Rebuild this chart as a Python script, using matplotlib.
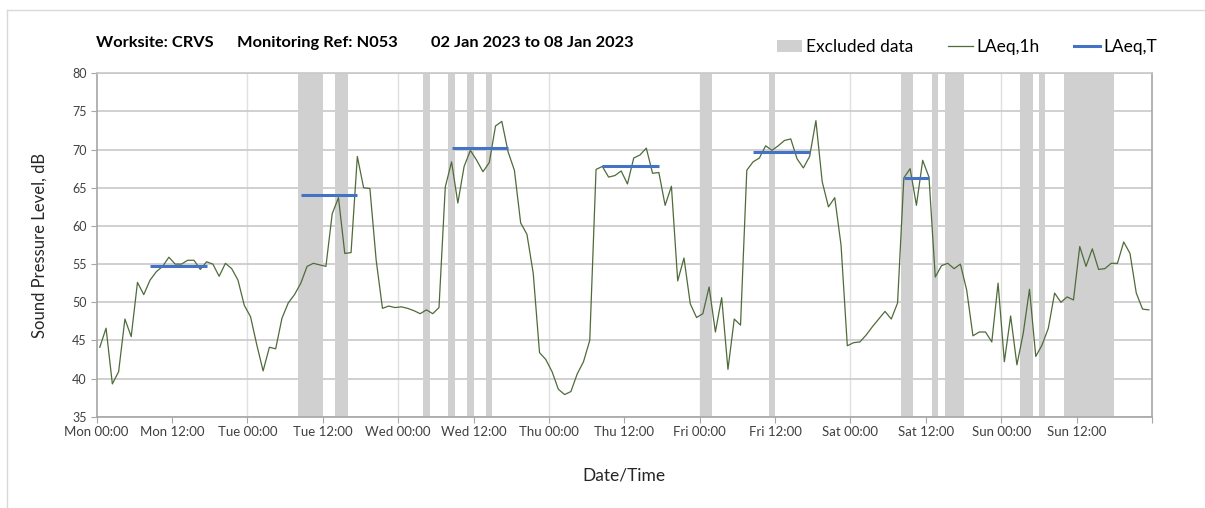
import numpy as np
import matplotlib
matplotlib.use("Agg")
from matplotlib import pyplot as plt
from matplotlib.patches import Patch
from matplotlib.lines import Line2D

plt.rcParams['font.family'] = ['Lato', 'DejaVu Sans']

# hourly LAeq,1h values, Mon 00:00 onwards (one per hour, plotted at mid-hour)
laeq_1h = [
    44.1, 46.6, 39.3, 40.9, 47.8, 45.5, 52.6, 51.0, 52.9, 54.0, 54.7, 55.9,
    55.0, 55.0, 55.5, 55.5, 54.3, 55.3, 55.0, 53.4, 55.1, 54.4, 52.9, 49.6,
    48.1, 44.4, 41.0, 44.1, 43.9, 47.9, 49.9, 51.0, 52.5, 54.7, 55.1, 54.9,
    54.7, 61.6, 63.7, 56.4, 56.5, 69.1, 65.0, 64.9, 55.5, 49.2, 49.5, 49.3,
    49.4, 49.2, 48.9, 48.5, 49.0, 48.5, 49.3, 65.1, 68.4, 63.0, 67.8, 69.9,
    68.6, 67.1, 68.3, 73.1, 73.7, 69.7, 67.3, 60.4, 58.9, 53.8, 43.4, 42.5,
    40.9, 38.6, 37.9, 38.3, 40.6, 42.2, 45.0, 67.4, 67.8, 66.4, 66.6, 67.2,
    65.5, 68.9, 69.3, 70.2, 66.9, 67.0, 62.7, 65.2, 52.8, 55.8, 49.8, 48.0,
    48.5, 52.0, 46.1, 50.6, 41.2, 47.8, 47.0, 67.3, 68.4, 68.9, 70.5, 69.9,
    70.5, 71.2, 71.4, 68.8, 67.6, 69.1, 73.8, 65.8, 62.5, 63.7, 57.5, 44.3,
    44.7, 44.8, 45.7, 46.8, 47.8, 48.8, 47.8, 49.9, 66.3, 67.5, 62.7, 68.6,
    66.4, 53.3, 54.8, 55.1, 54.4, 55.0, 51.6, 45.6, 46.1, 46.1, 44.8, 52.5,
    42.2, 48.2, 41.8, 45.9, 51.7, 42.9, 44.4, 46.6, 51.2, 50.0, 50.7, 50.3,
    57.3, 54.7, 57.0, 54.3, 54.4, 55.1, 55.1, 57.9, 56.4, 51.2, 49.1, 49.0,
]
hours = np.arange(len(laeq_1h)) + 0.5

# excluded periods (hours from Mon 00:00)
excl_start = [32, 38, 52, 56, 59, 62, 96, 107, 128, 133, 135, 147, 150, 154]
excl_end = [36, 40, 53, 57, 60, 63, 98, 108, 130, 134, 138, 149, 151, 162]

# LAeq,T daytime levels
laeqT_start = [8.5, 32.5, 56.5, 80.5, 104.5, 128.5]
laeqT_end = [17.5, 41.5, 65.5, 89.5, 113.5, 132.5]
laeqT_level = [54.8, 64.1, 70.2, 67.8, 69.7, 66.3]

days = ['Mon', 'Tue', 'Wed', 'Thu', 'Fri', 'Sat', 'Sun']
tick_labels = []
for d in days:
    tick_labels += [d + ' 00:00', d + ' 12:00']
tick_labels.append('')

green = '#4f6b3a'
blue = '#4472c4'
grey = '#d0d0d0'

fig = plt.figure(figsize=(12.05, 5.08), dpi=100)
ax = fig.add_axes([0.0802, 0.1797, 0.956 - 0.0802, 0.8557 - 0.1797])

for s, e in zip(excl_start, excl_end):
    ax.axvspan(s, e, color=grey, lw=0, zorder=1)

ax.plot(hours, laeq_1h, color=green, lw=0.9, zorder=3)
for s, e, v in zip(laeqT_start, laeqT_end, laeqT_level):
    ax.plot([s, e], [v, v], color=blue, lw=2.2, solid_capstyle='butt', zorder=4)

ax.set_xlim(0, 168)
ax.set_ylim(35, 80)
ax.set_xticks(np.arange(0, 169, 12))
ax.set_xticklabels(tick_labels, fontsize=9.5, color='#404040')
ax.set_yticks(np.arange(35, 81, 5))
ax.tick_params(axis='y', labelsize=9, colors='#a6a6a6', labelcolor='#404040', length=4, pad=3)
ax.tick_params(axis='x', colors='#a6a6a6', labelcolor='#404040', length=4, pad=3)

ax.set_axisbelow(True)
ax.grid(axis='y', color='#c8c8c8', lw=1.2)
for d in range(1, 7):
    ax.axvline(d * 24, color='#e0e0e0', lw=1.0, zorder=0.5)

for side in ['left', 'bottom', 'right']:
    ax.spines[side].set_color('#a6a6a6')
    ax.spines[side].set_linewidth(1.2)
ax.spines['top'].set_color('#c8c8c8')
ax.spines['top'].set_linewidth(1.2)

ax.set_xlabel('Date/Time', fontsize=12.5, color='#262626', labelpad=21)
ax.set_ylabel('Sound Pressure Level, dB', fontsize=12, color='#262626', labelpad=18)

# title pieces
fig.text(0.0797, 0.915, 'Worksite: CRVS', fontsize=11.8, fontweight='bold', va='center')
fig.text(0.1967, 0.915, 'Monitoring Ref: N053', fontsize=11.8, fontweight='bold', va='center')
fig.text(0.3577, 0.915, '02 Jan 2023 to 08 Jan 2023', fontsize=11.8, fontweight='bold', va='center')

handles = [Patch(facecolor=grey, edgecolor='none'),
           Line2D([], [], color=green, lw=0.9),
           Line2D([], [], color=blue, lw=2.2)]
fig.legend(handles, ['Excluded data', 'LAeq,1h', 'LAeq,T'], loc='center',
           bbox_to_anchor=(0.8025, 0.907), ncol=3, frameon=False, fontsize=12.5,
           handlelength=1.45, handletextpad=0.2, columnspacing=2.0)

# outer frame lines
fig.add_artist(Line2D([7 / 1205, 1], [1 - 10 / 508, 1 - 10 / 508], color='#d9d9d9', lw=1))
fig.add_artist(Line2D([7 / 1205, 7 / 1205], [0, 1 - 10 / 508], color='#d9d9d9', lw=1))

fig.savefig('out.png', dpi=100)
